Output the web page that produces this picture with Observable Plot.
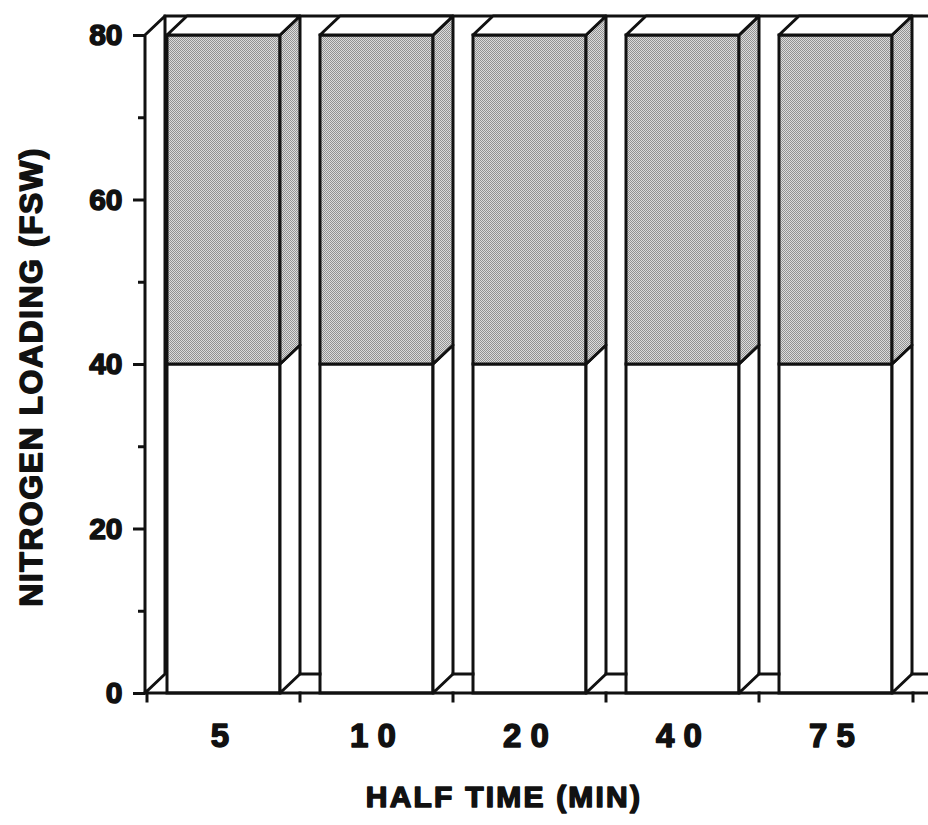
<!DOCTYPE html>
<html>
<head>
<meta charset="utf-8">
<script src="https://cdn.jsdelivr.net/npm/d3@7"></script>
<script src="https://cdn.jsdelivr.net/npm/@observablehq/plot@0.6"></script>
<style>
  html, body { margin: 0; padding: 0; background: #fff; }
  #chart svg { display: block; }
</style>
</head>
<body>
<div id="chart"></div>
<script>
// Compartment half times (min) and their tick labels
const halfTimes = ["5", "10", "20", "40", "75"];
const halfTimeLabels = ["5", "1 0", "2 0", "4 0", "7 5"];

// Nitrogen loading (fsw): plain lower block and stippled upper block, stacked
const lowerLoading = [40, 40, 40, 40, 40];
const upperLoading = [40, 40, 40, 40, 40];

// Y axis ticks
const yMajorTicks = [0, 20, 40, 60, 80];
const yMinorTicks = [10, 30, 50, 70];

const xTitle = "HALF TIME (MIN)";
const yTitle = "NITROGEN LOADING (FSW)";

const FONT = "'Liberation Sans', Arial, Helvetica, sans-serif";
const DEPTH_X = 20;   // oblique depth of the 3-D boxes, px
const DEPTH_Y = 19;
const LINE = 3;

// One row per stacked block, with its lower and upper bound
const blocks = halfTimes.flatMap((t, i) => [
  { halfTime: t, part: "lower", y1: 0, y2: lowerLoading[i] },
  { halfTime: t, part: "upper", y1: lowerLoading[i], y2: lowerLoading[i] + upperLoading[i] }
]);

const W = 928, H = 825;

const plot = Plot.plot({
  width: W,
  height: H,
  marginLeft: 145,
  marginRight: 15,
  marginTop: 35,
  marginBottom: 132,
  style: { fontFamily: FONT, background: "#fff", color: "#111" },
  x: { domain: halfTimes, padding: 0 },
  y: { domain: [0, 80] },
  marks: [
    // front faces of the boxes
    Plot.rectY(blocks.filter(d => d.part === "lower"), {
      x: "halfTime", y1: "y1", y2: "y2",
      fill: "#fff", stroke: "#111", strokeWidth: LINE,
      insetLeft: DEPTH_X, insetRight: DEPTH_X
    }),
    Plot.rectY(blocks.filter(d => d.part === "upper"), {
      x: "halfTime", y1: "y1", y2: "y2",
      fill: "url(#stipple)", stroke: "#111", strokeWidth: LINE,
      insetLeft: DEPTH_X, insetRight: DEPTH_X
    }),
    Plot.axisY({
      ticks: yMajorTicks, tickSize: 12, tickPadding: 11,
      strokeWidth: LINE, fontSize: 30, fontWeight: "bold", label: null
    }),
    Plot.axisY({
      ticks: yMinorTicks, tickSize: 7, tickFormat: () => "",
      strokeWidth: LINE, label: null
    }),
    Plot.axisX({
      tickSize: 0, tickPadding: 30, fontSize: 33, fontWeight: "bold", dx: -4,
      tickFormat: d => halfTimeLabels[halfTimes.indexOf(d)], label: null
    })
  ]
});

document.getElementById("chart").appendChild(plot);

// ---- oblique 3-D parts, positioned with the plot's own scales ----
const sx = plot.scale("x");
const sy = plot.scale("y");
const xBand = sx.apply ? (v => sx.apply(v))
  : d3.scaleBand(sx.domain, sx.range).paddingInner(sx.paddingInner || 0).paddingOuter(sx.paddingOuter || 0);
const bw = sx.bandwidth;
const yPos = sy.apply ? (v => sy.apply(v)) : d3.scaleLinear(sy.domain, sy.range);
const xLeft = sx.range[0], xRight = sx.range[1];
const y0 = yPos(0), yTop = yPos(80);

const svg = d3.select(plot);

// stipple texture for the upper blocks
const defs = svg.insert("defs", ":first-child");
const pat = defs.append("pattern")
  .attr("id", "stipple").attr("width", 2).attr("height", 2)
  .attr("patternUnits", "userSpaceOnUse");
pat.append("rect").attr("width", 2).attr("height", 2).attr("fill", "#dcdcdc");
pat.append("rect").attr("width", 1).attr("height", 1).attr("fill", "#929292");
pat.append("rect").attr("x", 1).attr("y", 1).attr("width", 1).attr("height", 1).attr("fill", "#929292");

const g = svg.append("g")
  .attr("fill", "none").attr("stroke", "#111")
  .attr("stroke-width", LINE).attr("stroke-linejoin", "round").attr("stroke-linecap", "square");

const line = pts => "M" + pts.map(p => p.join(",")).join("L");
const poly = pts => line(pts) + "Z";

// left wall
g.append("path").attr("fill", "#fff").attr("d", poly([
  [xLeft, y0], [xLeft, yTop], [xLeft + DEPTH_X, yTop - DEPTH_Y], [xLeft + DEPTH_X, y0 - DEPTH_Y]
]));
// back wall top edge
g.append("path").attr("d", line([[xLeft + DEPTH_X, yTop - DEPTH_Y], [W, yTop - DEPTH_Y]]));
// floor front edge (x axis)
g.append("path").attr("d", line([[xLeft, y0], [W, y0]]));

halfTimes.forEach((t, i) => {
  const x0 = xBand(t), x1 = x0 + bw;
  const fx0 = x0 + DEPTH_X, fx1 = x1 - DEPTH_X;
  const segs = blocks.filter(d => d.halfTime === t);
  // side faces
  segs.forEach(d => {
    const a = yPos(d.y1), b = yPos(d.y2);
    g.append("path")
      .attr("fill", d.part === "upper" ? "url(#stipple)" : "#fff")
      .attr("d", poly([[fx1, a], [x1, a - DEPTH_Y], [x1, b - DEPTH_Y], [fx1, b]]));
  });
  // top face
  const top = yPos(d3.max(segs, d => d.y2));
  g.append("path").attr("fill", "#fff").attr("d", poly([
    [fx0, top], [fx1, top], [x1, top - DEPTH_Y], [fx0 + DEPTH_X, top - DEPTH_Y]
  ]));
  // floor back edge between this box and the next one
  const nextX = i < halfTimes.length - 1 ? xBand(halfTimes[i + 1]) + DEPTH_X : W;
  g.append("path").attr("d", line([[x1, y0 - DEPTH_Y], [nextX, y0 - DEPTH_Y]]));
});

// category boundary ticks below the floor
[...halfTimes.map(t => xBand(t)), xRight].forEach(x => {
  g.append("path").attr("d", line([[x, y0], [x, y0 + 8]]));
});

// axis titles
svg.append("text")
  .attr("x", 504).attr("y", 807)
  .attr("text-anchor", "middle")
  .attr("font-family", FONT).attr("font-weight", "bold").attr("font-size", 30)
  .attr("letter-spacing", 2.2).attr("fill", "#111")
  .text(xTitle);

svg.append("text")
  .attr("transform", `translate(42,${377}) rotate(-90)`)
  .attr("text-anchor", "middle")
  .attr("font-family", FONT).attr("font-weight", "bold").attr("font-size", 32)
  .attr("letter-spacing", 1.5).attr("fill", "#111")
  .text(yTitle);

// heavier lettering throughout
svg.selectAll("text")
  .attr("stroke", "#111").attr("stroke-width", 1.5).attr("stroke-linejoin", "round")
  .attr("paint-order", "stroke");
</script>
</body>
</html>
